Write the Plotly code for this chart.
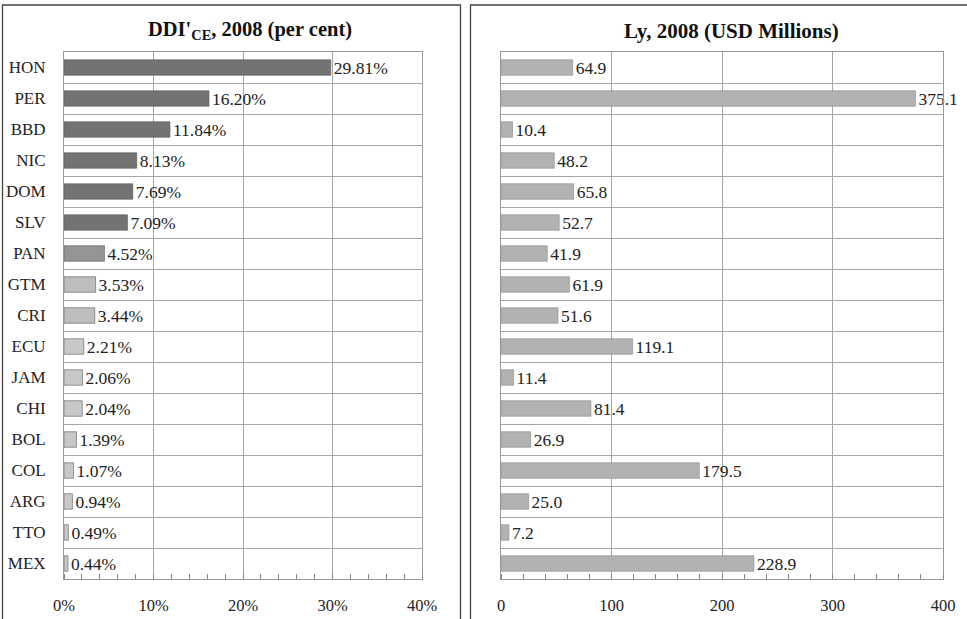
import plotly.graph_objects as go

countries = ["HON", "PER", "BBD", "NIC", "DOM", "SLV", "PAN", "GTM", "CRI",
             "ECU", "JAM", "CHI", "BOL", "COL", "ARG", "TTO", "MEX"]
ddi_pct = [29.81, 16.20, 11.84, 8.13, 7.69, 7.09, 4.52, 3.53, 3.44,
           2.21, 2.06, 2.04, 1.39, 1.07, 0.94, 0.49, 0.44]
ly_usd_m = [64.9, 375.1, 10.4, 48.2, 65.8, 52.7, 41.9, 61.9, 51.6,
            119.1, 11.4, 81.4, 26.9, 179.5, 25.0, 7.2, 228.9]
left_ticks = [0, 10, 20, 30, 40]
left_ticktext = ["0%", "10%", "20%", "30%", "40%"]
right_ticks = [0, 100, 200, 300, 400]

left_colors = (["#737373"] * 6 + ["#959595"] + ["#bdbdbd"] * 2 + ["#c8c8c8"] * 8)
right_color = "#b2b2b2"

W, H = 967, 619
FONT = "Liberation Serif"
pos = list(range(len(countries)))
bounds = [i + 0.5 for i in pos[:-1]]

fig = go.Figure()
fig.add_trace(go.Bar(
    x=ddi_pct, y=pos, orientation="h", width=0.5,
    marker=dict(color=left_colors, line=dict(color="#5a5a5a", width=0.6)),
    text=[f"{v:.2f}%" for v in ddi_pct], textposition="outside",
    constraintext="none",
    textfont=dict(family=FONT, size=17.5, color="#222"),
    cliponaxis=False, xaxis="x", yaxis="y", showlegend=False,
))
fig.add_trace(go.Bar(
    x=ly_usd_m, y=pos, orientation="h", width=0.5,
    marker=dict(color=right_color, line=dict(color="#8a8a8a", width=0.6)),
    text=[f"{v:.1f}" for v in ly_usd_m], textposition="outside",
    constraintext="none",
    textfont=dict(family=FONT, size=17.5, color="#222"),
    cliponaxis=False, xaxis="x2", yaxis="y2", showlegend=False,
))

ydom = [(H - 579) / H, (H - 52) / H]
grid = "#a6a6a6"
common_x = dict(showline=True, mirror=True, linecolor="#999", linewidth=1,
                showgrid=True, gridcolor=grid, gridwidth=1, zeroline=False,
                ticks="", ticklabelstandoff=11, automargin=False,
                tickfont=dict(family=FONT, size=16.5, color="#222"))
common_y = dict(showline=True, mirror=True, linecolor="#999", linewidth=1,
                showgrid=False, zeroline=False, range=[16.5, -0.5],
                automargin=False,
                minor=dict(tickvals=bounds, showgrid=True, gridcolor=grid,
                           gridwidth=1, ticks=""))

fig.update_layout(
    width=W, height=H, margin=dict(l=0, r=0, t=0, b=0, autoexpand=False),
    paper_bgcolor="white", plot_bgcolor="white", bargap=0.5,
    xaxis=dict(domain=[64 / W, 422 / W], range=[0, 40], tickvals=left_ticks,
               ticktext=left_ticktext,
               minor=dict(dtick=2, ticks="inside", ticklen=5, tickcolor="#888"),
               anchor="y", **common_x),
    yaxis=dict(domain=ydom, anchor="x", tickvals=pos, ticktext=countries,
               ticks="", ticklabelstandoff=14,
               tickfont=dict(family=FONT, size=17, color="#222"), **common_y),
    xaxis2=dict(domain=[501 / W, 943 / W], range=[0, 400], tickvals=right_ticks,
                minor=dict(dtick=20, ticks="inside", ticklen=5, tickcolor="#888"),
                anchor="y2", **common_x),
    yaxis2=dict(domain=ydom, anchor="x2", showticklabels=False, ticks="",
                **common_y),
    annotations=[
        dict(text="<b>DDI'<sub>CE</sub>, 2008 (per cent)</b>", x=250 / W,
             y=1 - 31 / H, xref="paper", yref="paper", showarrow=False,
             xanchor="center", yanchor="middle",
             font=dict(family=FONT, size=20.5, color="#111")),
        dict(text="<b>Ly, 2008 (USD Millions)</b>", x=731 / W, y=1 - 31 / H,
             xref="paper", yref="paper", showarrow=False,
             xanchor="center", yanchor="middle",
             font=dict(family=FONT, size=21, color="#111")),
    ],
    shapes=[
        dict(type="rect", xref="paper", yref="paper", x0=2.5 / W, x1=460.5 / W,
             y0=-0.05, y1=1 - 5 / H, line=dict(color="#444", width=1.3)),
        dict(type="rect", xref="paper", yref="paper", x0=470.5 / W, x1=1.05,
             y0=-0.05, y1=1 - 5 / H, line=dict(color="#444", width=1.3)),
    ],
)

fig.write_html("out.html")
